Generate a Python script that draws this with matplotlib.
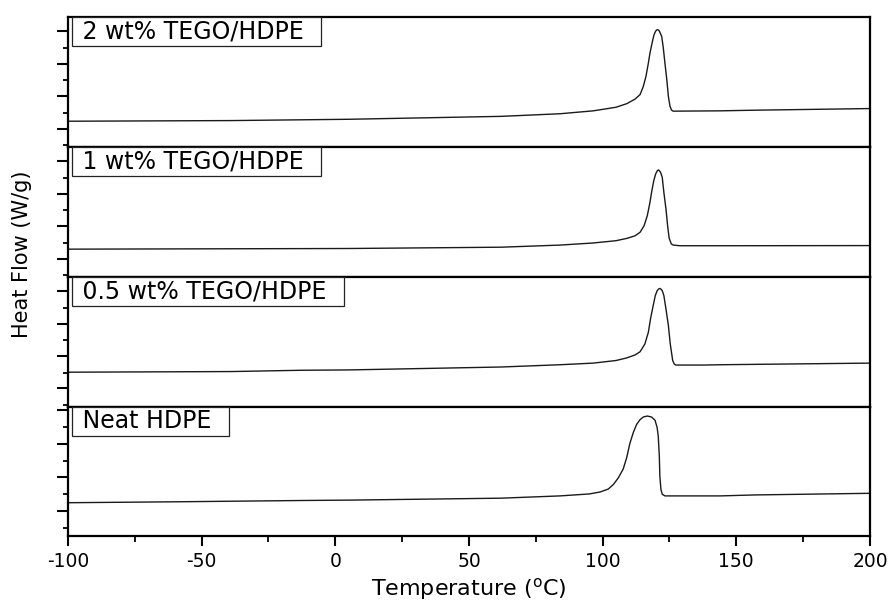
import numpy as np
import matplotlib
matplotlib.use("Agg")
import matplotlib.pyplot as plt
from matplotlib.ticker import FixedLocator, MultipleLocator, NullLocator

plt.rcParams['font.family'] = ['DejaVu Sans']
plt.rcParams['axes.unicode_minus'] = False

# DSC traces (temperature in C, heat flow in arbitrary W/g units)
temp_2wt = [-100, -39, 5, 62, 84, 96.5, 105, 109, 112.1, 114, 115.2, 116.2, 117.1, 117.7, 118.5,
            119.2, 119.8, 120.2, 120.6, 121.0, 121.3, 122.1, 122.7, 123.3, 124, 124.6, 125.2,
            125.8, 126.4, 144, 157, 200]
flow_2wt = [0.79, 0.81, 0.85, 0.94, 1.02, 1.11, 1.22, 1.33, 1.47, 1.61, 1.86, 2.17, 2.58, 2.89,
            3.20, 3.45, 3.56, 3.60, 3.61, 3.59, 3.55, 3.40, 3.04, 2.58, 2.07, 1.55, 1.25,
            1.13, 1.10, 1.11, 1.13, 1.18]

temp_1wt = [-100, 5, 62, 84, 96.5, 105, 109, 112.1, 114, 115.5, 116.7, 117.7, 118.3, 119.1,
            119.8, 120.4, 120.9, 121.3, 121.7, 122.3, 122.9, 123.7, 124.3, 124.9, 125.7, 126.4,
            128.9, 144, 200]
flow_1wt = [0.85, 0.87, 0.91, 0.975, 1.04, 1.11, 1.18, 1.26, 1.37, 1.57, 1.88, 2.29, 2.60, 2.95,
            3.16, 3.26, 3.29, 3.26, 3.21, 3.06, 2.60, 2.08, 1.57, 1.18, 1.01, 0.975,
            0.955, 0.955, 0.96]

temp_05wt = [-100, -39, -12.5, 5, 62, 84, 96.5, 105, 109, 112.1, 114, 115.8, 117.1, 117.9,
             118.9, 119.7, 120.4, 120.9, 121.4, 121.8, 122.3, 122.9, 123.7, 124.6, 125.3, 126.2,
             126.8, 127.4, 137.7, 144, 200]
flow_05wt = [1.06, 1.08, 1.12, 1.13, 1.22, 1.29, 1.34, 1.42, 1.50, 1.59, 1.69, 1.93, 2.29, 2.70,
             3.11, 3.42, 3.57, 3.62, 3.64, 3.62, 3.57, 3.42, 3.00, 2.49, 1.93, 1.42,
             1.31, 1.28, 1.28, 1.29, 1.34]

temp_neat = [-100, -58, -10.5, 5, 62, 84, 95, 99, 102.1, 104, 105.9, 107.7, 109, 110.2, 111.5,
             112.7, 114, 115.2, 116.7, 118.3, 119.6, 120.4, 120.8, 121.2, 121.4, 121.8, 122.3,
             123.3, 144, 157, 200]
flow_neat = [1.04, 1.07, 1.11, 1.12, 1.18, 1.25, 1.31, 1.37, 1.46, 1.60, 1.81, 2.08, 2.43, 2.87,
             3.21, 3.45, 3.60, 3.68, 3.71, 3.68, 3.58, 3.35, 3.09, 2.48, 1.86, 1.45, 1.30,
             1.25, 1.25, 1.28, 1.33]

panel_labels = ['2 wt% TEGO/HDPE', '1 wt% TEGO/HDPE', '0.5 wt% TEGO/HDPE', 'Neat HDPE']
x_ticks = [-100, -50, 0, 50, 100, 150, 200]

# tick positions on each panel's own y axis (unlabelled)
major_y = [[0.56, 1.56, 2.56, 3.56]] * 3 + [[0.78, 1.82, 2.86, 3.9]]
minor_y = [[0.05, 1.05, 2.05, 3.05]] * 3 + [[0.26, 1.30, 2.34, 3.38]]


def style_panel(ax, label, majors, minors, bottom):
    for sp in ax.spines.values():
        sp.set_linewidth(1.6)
    ax.set_xlim(-100, 200)
    ax.set_ylim(0, 4)
    ax.yaxis.set_major_locator(FixedLocator(majors))
    ax.yaxis.set_minor_locator(FixedLocator(minors))
    ax.tick_params(axis='y', which='major', direction='out', length=8, width=1.5,
                   labelleft=False)
    ax.tick_params(axis='y', which='minor', direction='out', length=3.8, width=1.3)
    if bottom:
        ax.set_xticks(x_ticks)
        ax.xaxis.set_minor_locator(MultipleLocator(25))
        ax.tick_params(axis='x', which='major', direction='out', length=7.5, width=1.5,
                       labelsize=13.5, pad=4)
        ax.tick_params(axis='x', which='minor', direction='out', length=4.5, width=1.3)
        ax.set_xlabel(r'Temperature ($^{\mathrm{o}}$C)', fontsize=16, labelpad=3)
    else:
        ax.xaxis.set_major_locator(NullLocator())
        ax.xaxis.set_minor_locator(NullLocator())
    ax.text(0.0085, 0.98, ' ' + label + '  ', transform=ax.transAxes, ha='left', va='top',
            fontsize=17, zorder=5,
            bbox=dict(boxstyle='square,pad=0.1', facecolor='white', edgecolor='#222222',
                      linewidth=0.9))


fig = plt.figure(figsize=(8.91, 6.03), dpi=100)
gs = fig.add_gridspec(4, 1, left=0.0763, right=0.9764, top=0.9718, bottom=0.1103, hspace=0)
axes = [fig.add_subplot(gs[i]) for i in range(4)]

series = [(temp_2wt, flow_2wt), (temp_1wt, flow_1wt), (temp_05wt, flow_05wt),
          (temp_neat, flow_neat)]
for i, (ax, (t, f)) in enumerate(zip(axes, series)):
    ax.plot(t, f, color='#1a1a1a', linewidth=1.0)
    style_panel(ax, panel_labels[i], major_y[i], minor_y[i], bottom=(i == 3))

fig.text(22 / 891, 1 - 254 / 603, 'Heat Flow (W/g)', rotation=90, ha='center', va='center',
         fontsize=15)

fig.savefig('out.png', dpi=100)
